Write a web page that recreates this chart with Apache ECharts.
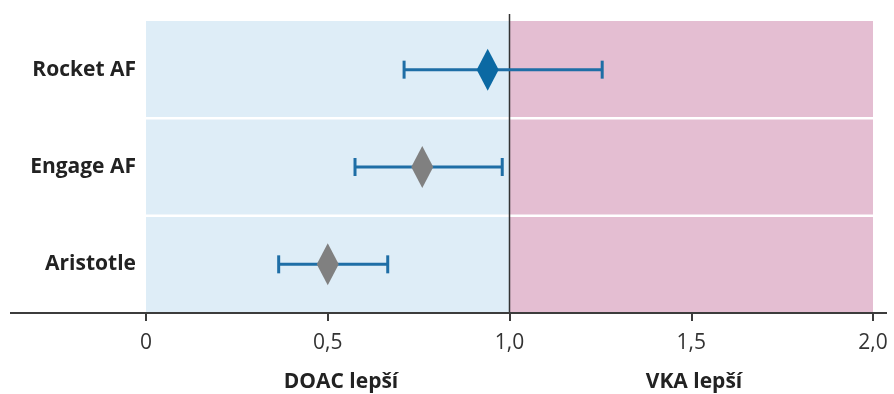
<!DOCTYPE html>
<html>
<head>
<meta charset="utf-8">
<script src="https://cdn.jsdelivr.net/npm/echarts@6/dist/echarts.min.js"></script>
<style>html,body{margin:0;padding:0;background:#fff}#c{width:894px;height:394px}</style>
</head>
<body>
<div id="c"></div>
<script>
const categories = ['Rocket AF', 'Engage AF', 'Aristotle'];
const estimates = [0.94, 0.76, 0.50];
const lowerCI = [0.71, 0.575, 0.365];
const upperCI = [1.255, 0.98, 0.665];
const diamondColors = ['#0b69a3', '#808080', '#808080'];
const xTicks = [0, 0.5, 1.0, 1.5, 2.0];
const regionLabels = ['DOAC lepší', 'VKA lepší'];

const FONT = '"Open Sans", "Noto Sans", sans-serif';
const chart = echarts.init(document.getElementById('c'), null, {renderer: 'canvas'});

const GRID = {left: 146, right: 21, top: 21, bottom: 81};

function fmtTick(v) {
  if (v === 0) return '0';
  return v.toFixed(1).replace('.', ',');
}

const ciData = categories.map((c, i) => [i, lowerCI[i], estimates[i], upperCI[i]]);
const ptData = categories.map((c, i) => ({value: [estimates[i], i], itemStyle: {color: diamondColors[i], opacity: 1}}));
const bgData = categories.map((c, i) => [i]);

chart.setOption({
  animation: false,
  grid: GRID,
  xAxis: {
    type: 'value', min: 0, max: 2, interval: 0.5,
    axisLine: {show: false},
    axisTick: {show: true, length: 8, lineStyle: {color: '#3c3c3c', width: 2}},
    splitLine: {show: false},
    axisLabel: {fontFamily: FONT, fontSize: 21, color: '#333', margin: 20,
      formatter: v => xTicks.indexOf(v) >= 0 ? fmtTick(v) : ''}
  },
  yAxis: {
    type: 'category', data: categories, inverse: true,
    axisLine: {show: false}, axisTick: {show: false}, splitLine: {show: false},
    axisLabel: {fontFamily: FONT, fontSize: 21, fontWeight: 'bold', color: '#222', margin: 10, padding: [6, 0, 0, 0]}
  },
  series: [
    {
      type: 'custom', z: 1, silent: true,
      data: bgData,
      encode: {y: 0},
      renderItem: function (params, api) {
        const cat = api.value(0);
        const c = api.coord([0, cat]);
        const bandH = api.size([0, 1])[1];
        const x0 = api.coord([0, cat])[0];
        const x1 = api.coord([1, cat])[0];
        const x2 = api.coord([2, cat])[0];
        const top = c[1] - bandH / 2;
        const children = [
          {type: 'rect', shape: {x: x0, y: top, width: x1 - x0, height: bandH}, style: {fill: '#deedf7'}},
          {type: 'rect', shape: {x: x1, y: top, width: x2 - x1, height: bandH}, style: {fill: '#e4bed2'}}
        ];
        if (params.dataIndex > 0) {
          children.push({type: 'line', shape: {x1: x0, y1: top, x2: x2, y2: top}, style: {stroke: '#ffffff', lineWidth: 2.5}});
        }
        if (params.dataIndex === 0) {
          const bottom = top + bandH * categories.length;
          children.push({type: 'line', z2: 10, shape: {x1: x1, y1: top - 7, x2: x1, y2: bottom}, style: {stroke: '#333', lineWidth: 1.5}});
        }
        return {type: 'group', children: children};
      }
    },
    {
      type: 'custom', z: 3, silent: true,
      data: ciData,
      encode: {x: [1, 2, 3], y: 0},
      renderItem: function (params, api) {
        const cat = api.value(0);
        const lo = api.coord([api.value(1), cat]);
        const hi = api.coord([api.value(3), cat]);
        const capH = 9;
        const st = {stroke: '#1e6ea6', lineWidth: 3};
        return {type: 'group', children: [
          {type: 'line', shape: {x1: lo[0], y1: lo[1], x2: hi[0], y2: hi[1]}, style: st},
          {type: 'line', shape: {x1: lo[0], y1: lo[1] - capH, x2: lo[0], y2: lo[1] + capH}, style: st},
          {type: 'line', shape: {x1: hi[0], y1: hi[1] - capH, x2: hi[0], y2: hi[1] + capH}, style: st}
        ]};
      }
    },
    {
      type: 'scatter', z: 4, silent: true,
      symbol: 'diamond', symbolSize: [22, 42],
      itemStyle: {opacity: 1},
      data: ptData
    }
  ],
  graphic: [
    {type: 'line', z: 10, shape: {x1: 10, y1: 394 - GRID.bottom, x2: 887, y2: 394 - GRID.bottom}, style: {stroke: '#3c3c3c', lineWidth: 2}},
    {type: 'text', x: 341, y: 382, style: {text: regionLabels[0], font: 'bold 21px ' + FONT, fill: '#222', align: 'center', verticalAlign: 'middle'}},
    {type: 'text', x: 694, y: 382, style: {text: regionLabels[1], font: 'bold 21px ' + FONT, fill: '#222', align: 'center', verticalAlign: 'middle'}}
  ]
});
</script>
</body>
</html>
